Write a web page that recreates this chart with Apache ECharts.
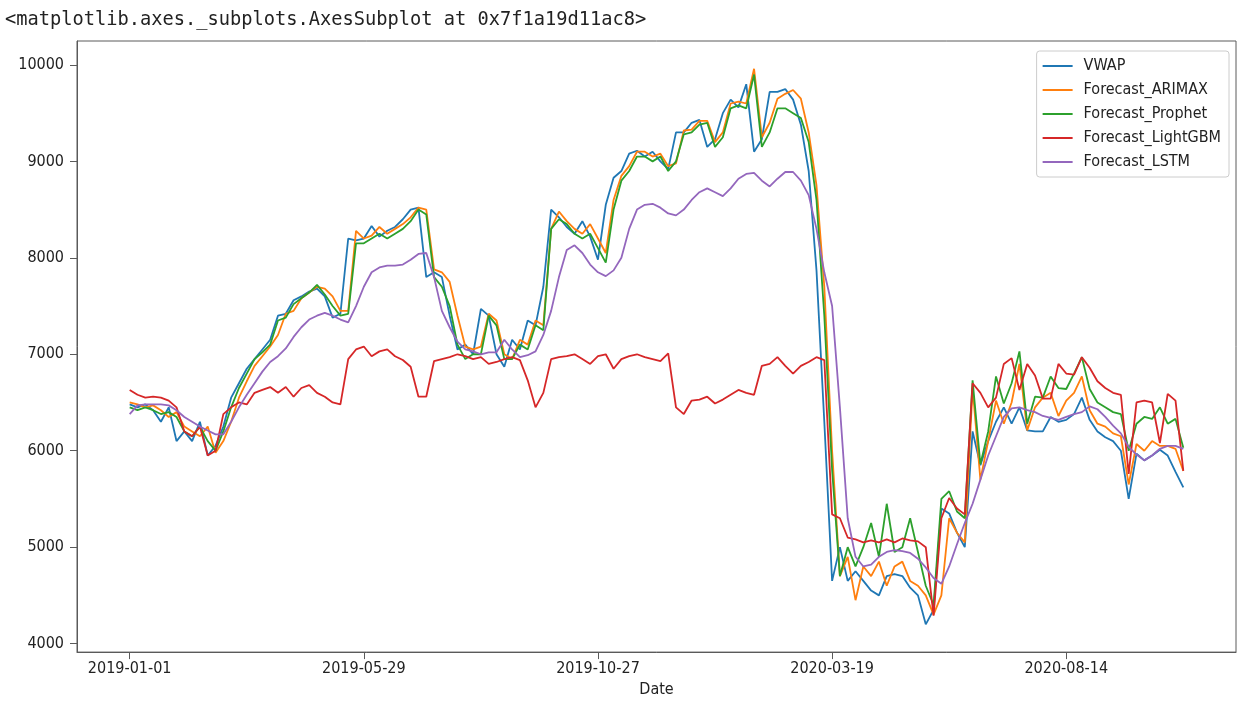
<!DOCTYPE html>
<html>
<head>
<meta charset="utf-8">
<script src="https://cdn.jsdelivr.net/npm/echarts@6/dist/echarts.min.js"></script>
<style>
  html, body { margin: 0; padding: 0; background: #fff; }
  #chart { width: 1239px; height: 703px; }
</style>
</head>
<body>
<div id="chart"></div>
<script>
// Row positions where date labels sit on the x axis, and their labels
const xTickPos = [0, 30, 60, 90, 120];
const xTickLabels = ['2019-01-01', '2019-05-29', '2019-10-27', '2020-03-19', '2020-08-14'];
const yTicks = [4000, 5000, 6000, 7000, 8000, 9000, 10000];

const seriesNames = ['VWAP', 'Forecast_ARIMAX', 'Forecast_Prophet', 'Forecast_LightGBM', 'Forecast_LSTM'];
const seriesColors = ['#1f77b4', '#ff7f0e', '#2ca02c', '#d62728', '#9467bd'];

const vwap = [
  6480, 6450, 6480, 6420, 6300, 6450, 6100, 6200, 6100, 6300,
  5950, 6050, 6250, 6550, 6700, 6850, 6950, 7050, 7150, 7400,
  7420, 7560, 7600, 7650, 7680, 7600, 7380, 7420, 8200, 8180,
  8200, 8330, 8220, 8280, 8320, 8400, 8500, 8520, 7800, 7850,
  7800, 7400, 7050, 7100, 7000, 7470, 7400, 7000, 6870, 7150,
  7050, 7350, 7300, 7700, 8500, 8420, 8320, 8250, 8380, 8220,
  7980, 8550, 8830, 8900, 9080, 9110, 9050, 9100, 9000, 8920,
  9300, 9300, 9400, 9430, 9150, 9230, 9500, 9640, 9560, 9800,
  9100, 9230, 9720, 9720, 9750, 9640, 9380, 8900, 7870, 6300,
  4650, 5000, 4650, 4750, 4650, 4550, 4500, 4700, 4720, 4700,
  4580, 4500, 4200, 4350, 5400, 5350, 5150, 5000, 6200, 5850,
  6100, 6300, 6450, 6280, 6450, 6210, 6200, 6200, 6350, 6300,
  6320, 6380, 6550, 6320, 6200, 6140, 6100, 6000, 5500, 5970,
  5900, 5950, 6010, 5950, 5780, 5620
];

const arimax = [
  6500, 6480, 6450, 6470, 6420, 6350, 6400, 6250, 6200, 6150,
  6250, 5980, 6100, 6300, 6550, 6720, 6880, 6980, 7080, 7200,
  7420, 7450, 7580, 7640, 7700, 7680, 7600, 7450, 7450, 8280,
  8200, 8230, 8320, 8250, 8300, 8350, 8420, 8520, 8500, 7880,
  7850, 7750, 7400, 7080, 7050, 7080, 7420, 7350, 7000, 6950,
  7150, 7100, 7350, 7300, 8300, 8480, 8380, 8300, 8250, 8350,
  8200, 8050, 8600, 8850, 8950, 9100, 9100, 9050, 9080, 8950,
  8980, 9320, 9330, 9420, 9420, 9200, 9300, 9600, 9620, 9600,
  9960, 9250, 9400, 9650, 9700, 9740, 9650, 9300, 8750, 7700,
  6000, 4700, 4900, 4450, 4800, 4700, 4850, 4600, 4800, 4850,
  4650, 4600, 4500, 4300, 4500, 5300, 5150, 5050, 6650, 5700,
  6100, 6520, 6280, 6500, 6900, 6210, 6450, 6550, 6600, 6360,
  6520, 6600, 6770, 6420, 6280, 6250, 6180, 6150, 5650, 6070,
  6000, 6100, 6050, 6050, 6020, 5790
];

const prophet = [
  6450, 6420, 6450, 6420, 6380, 6400, 6350, 6200, 6150, 6250,
  6100, 6000, 6200, 6450, 6650, 6800, 6950, 7020, 7100, 7350,
  7380, 7520, 7580, 7640, 7720, 7620, 7500, 7400, 7420, 8150,
  8150, 8200, 8250, 8200, 8250, 8300, 8380, 8500, 8450, 7800,
  7700, 7500, 7100, 6950, 7000, 7000, 7400, 7300, 6950, 6950,
  7100, 7050, 7300, 7250, 8300, 8400, 8350, 8250, 8200, 8250,
  8100, 7950, 8500, 8800, 8900, 9050, 9050, 9000, 9050, 8900,
  9000, 9280, 9300, 9380, 9400, 9150, 9250, 9550, 9580, 9550,
  9900, 9150, 9300, 9550, 9550, 9500, 9450, 9200, 8600, 7400,
  5800, 4700, 5000, 4800, 5000, 5250, 4900, 5450, 4950, 5000,
  5300, 4950, 4600, 4400, 5500, 5580, 5370, 5300, 6730, 5860,
  6200, 6770, 6490, 6700, 7030, 6280, 6560, 6550, 6770, 6650,
  6640, 6800, 6970, 6640, 6500, 6450, 6400, 6380, 6000, 6280,
  6350, 6330, 6450, 6280, 6330, 6030
];

const lightgbm = [
  6630, 6580, 6550, 6560, 6550, 6520, 6450, 6200, 6150, 6250,
  5950, 6000, 6380, 6450, 6500, 6480, 6600, 6630, 6660, 6600,
  6660, 6560, 6650, 6680, 6600, 6560, 6500, 6480, 6950, 7050,
  7080, 6980, 7030, 7050, 6980, 6940, 6870, 6560, 6560, 6930,
  6950, 6970, 7000, 6980, 6950, 6970, 6900, 6920, 6950, 6970,
  6940, 6730, 6450, 6600, 6950, 6970, 6980, 7000, 6950, 6900,
  6980, 7000, 6850, 6950, 6980, 7000, 6970, 6950, 6930, 7010,
  6450, 6380, 6520, 6530, 6560, 6490, 6530, 6580, 6630, 6600,
  6580, 6880, 6900, 6970, 6880, 6800, 6880, 6920, 6970, 6940,
  5340, 5300, 5100, 5080, 5050, 5070, 5050, 5080, 5050, 5090,
  5070, 5060, 5000, 4290, 5300, 5510, 5400, 5340, 6700, 6600,
  6450, 6550, 6900, 6960, 6630, 6900, 6780, 6540, 6540, 6900,
  6800, 6790, 6970, 6860, 6720, 6650, 6600, 6580, 5760, 6500,
  6520, 6500, 6080, 6590, 6520, 5790
];

const lstm = [
  6380, 6470, 6480, 6480, 6480, 6470, 6420, 6350, 6300, 6250,
  6210, 6170, 6170, 6300, 6450, 6580, 6700, 6820, 6920, 6980,
  7060, 7180, 7280, 7360, 7400, 7430, 7400, 7360, 7330, 7500,
  7700, 7850, 7900, 7920, 7920, 7930, 7980, 8040, 8050, 7800,
  7450, 7280, 7130, 7050, 7030, 7000, 7020, 7020, 7150, 7050,
  6970, 6990, 7030, 7200, 7450, 7800, 8080, 8130, 8050, 7930,
  7850, 7810, 7870, 8000, 8300, 8500, 8550, 8560, 8520, 8460,
  8440, 8500, 8600, 8680, 8720, 8680, 8640, 8720, 8820, 8870,
  8880, 8800, 8740, 8820, 8890, 8890, 8800, 8650, 8300, 7850,
  7500, 6450, 5300, 4900, 4800, 4820, 4900, 4950, 4970, 4960,
  4940, 4880, 4790, 4680, 4620, 4800, 5030, 5250, 5450, 5700,
  5950, 6150, 6350, 6440, 6450, 6420, 6400, 6360, 6340, 6320,
  6350, 6380, 6400, 6460, 6430, 6350, 6260, 6180, 6040, 5960,
  5900, 5950, 6020, 6050, 6050, 6020
];

const seriesValues = [vwap, arimax, prophet, lightgbm, lstm];

const textFont = "'DejaVu Sans Condensed', 'DejaVu Sans', sans-serif";
const textColor = '#222';
const frameColor = '#5a5a5a';

const chart = echarts.init(document.getElementById('chart'), null, { renderer: 'canvas' });

chart.setOption({
  animation: false,
  backgroundColor: '#fff',
  title: {
    text: '<matplotlib.axes._subplots.AxesSubplot at 0x7f1a19d11ac8>',
    left: 0,
    top: 6,
    textStyle: {
      fontFamily: "'DejaVu Sans Mono', 'Liberation Mono', monospace",
      fontSize: 18.7,
      fontWeight: 'normal',
      color: textColor
    }
  },
  grid: {
    left: 77,
    right: 3,
    top: 41,
    bottom: 49,
    show: true,
    borderColor: frameColor,
    borderWidth: 1
  },
  legend: {
    data: seriesNames,
    orient: 'vertical',
    right: 10,
    top: 51,
    icon: 'rect',
    itemWidth: 30,
    itemHeight: 2,
    itemGap: 6,
    padding: [6, 8, 6, 6],
    borderColor: '#ccc',
    borderWidth: 1,
    borderRadius: 3,
    backgroundColor: 'rgba(255,255,255,0.8)',
    textStyle: {
      fontFamily: textFont,
      fontSize: 16,
      color: textColor,
      lineHeight: 18,
      padding: [0, 0, 0, 6]
    }
  },
  xAxis: {
    type: 'value',
    min: -6.75,
    max: 141.75,
    name: 'Date',
    nameLocation: 'middle',
    nameGap: 28,
    nameTextStyle: { fontFamily: textFont, fontSize: 16, color: textColor },
    axisLine: { show: true, onZero: false, lineStyle: { color: frameColor, width: 1 } },
    axisTick: { show: true, length: 7, customValues: xTickPos, lineStyle: { color: frameColor } },
    axisLabel: {
      customValues: xTickPos,
      margin: 9,
      fontFamily: textFont,
      fontSize: 16,
      color: textColor,
      formatter: function (v) {
        const k = xTickPos.indexOf(Math.round(v));
        return k >= 0 ? xTickLabels[k] : '';
      }
    },
    splitLine: { show: false }
  },
  yAxis: {
    type: 'value',
    min: 3912,
    max: 10248,
    axisLine: { show: true, onZero: false, lineStyle: { color: frameColor, width: 1 } },
    axisTick: { show: true, length: 7, customValues: yTicks, lineStyle: { color: frameColor } },
    axisLabel: {
      customValues: yTicks,
      margin: 13,
      fontFamily: textFont,
      fontSize: 16,
      color: textColor,
      formatter: function (v) { return String(Math.round(v)); }
    },
    splitLine: { show: false }
  },
  series: seriesNames.map(function (name, s) {
    return {
      name: name,
      type: 'line',
      showSymbol: false,
      symbol: 'none',
      color: seriesColors[s],
      lineStyle: { width: 1.8, color: seriesColors[s] },
      data: seriesValues[s].map(function (v, i) { return [i, v]; })
    };
  })
});
</script>
</body>
</html>
